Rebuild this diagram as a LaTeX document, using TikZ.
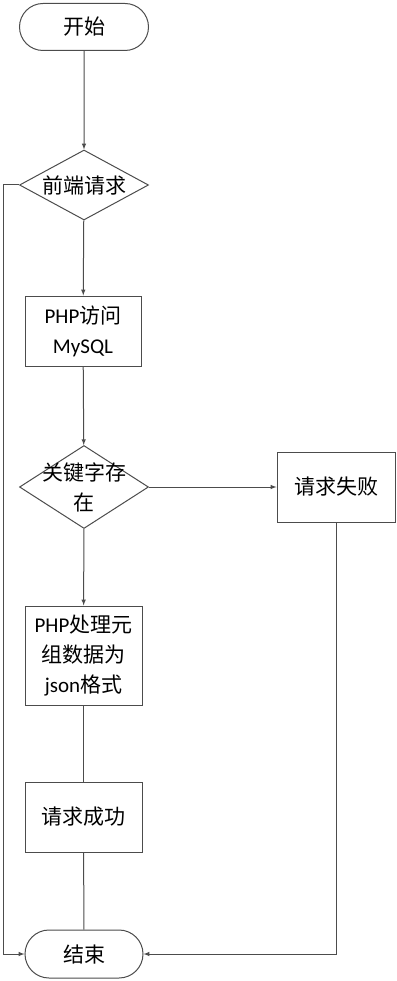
\documentclass[tikz,border=0pt]{standalone}
\usepackage{fontspec}
\setmainfont{Carlito}
\newfontfamily\cjk{Noto Sans CJK SC}
\usepackage{tikz}
\usetikzlibrary{arrows,shapes.geometric,shapes.misc}

\tikzset{
	terminal/.style={draw=black!70, rounded rectangle, minimum width=129pt, minimum height=47pt, inner sep=0pt},
	decision/.style={draw=black!70, diamond, aspect=1.86, minimum width=129pt, minimum height=70pt, inner sep=0pt},
	process/.style={draw=black!70, rectangle, minimum width=117pt, minimum height=70pt, inner sep=0pt, align=center},
	flow/.style={draw=black!70, line width=1pt}
}

\begin{document}
\begin{tikzpicture}[>=latex, x=1pt, y=-1pt, font=\fontsize{21}{30}\selectfont, line width=1pt]
		\useasboundingbox (0,0) rectangle (396,981);
		%Inizio e fine
		\node [terminal] (start) at (84,27) {\cjk 开始};
		\node [terminal, minimum width=118pt, minimum height=48pt] (end) at (84,954) {\cjk 结束};
		%Richiesta
		\node [decision] (req) at (84,185) {\cjk 前端请求};
		\node [process, minimum width=116pt] (php) at (83,331) {PHP{\cjk 访问}\\MySQL};
		%Chiave
		\node [decision, minimum height=83pt, label={[align=center]center:{\cjk 关键字存}\\{\cjk 在}}] (key) at (84,487) {};
		\node [process, minimum width=118pt] (fail) at (336,487) {\cjk 请求失败};
		%Json
		\node [process, minimum height=99pt] (proc) at (83.5,655.5) {PHP{\cjk 处理元}\\{\cjk 组数据为}\\json{\cjk 格式}};
		\node [process] (succ) at (83.5,817) {\cjk 请求成功};
		\coordinate (loop) at (3,185);
		%Frecce
		\draw [flow, ->] (start) -- (req);
		\draw [flow, ->] (req) -- (php);
		\draw [flow, ->] (php) -- (key);
		\draw [flow, ->] (key) -- (fail);
		\draw [flow, ->] (key) -- (proc);
		\draw [flow] (proc) -- (succ);
		\draw [flow] (succ) -- (end);
		\draw [flow, ->] (fail.south) |- (end.east);
		\draw [flow, ->] (req.west) -- (loop) |- (end.west);
\end{tikzpicture}
\end{document}
